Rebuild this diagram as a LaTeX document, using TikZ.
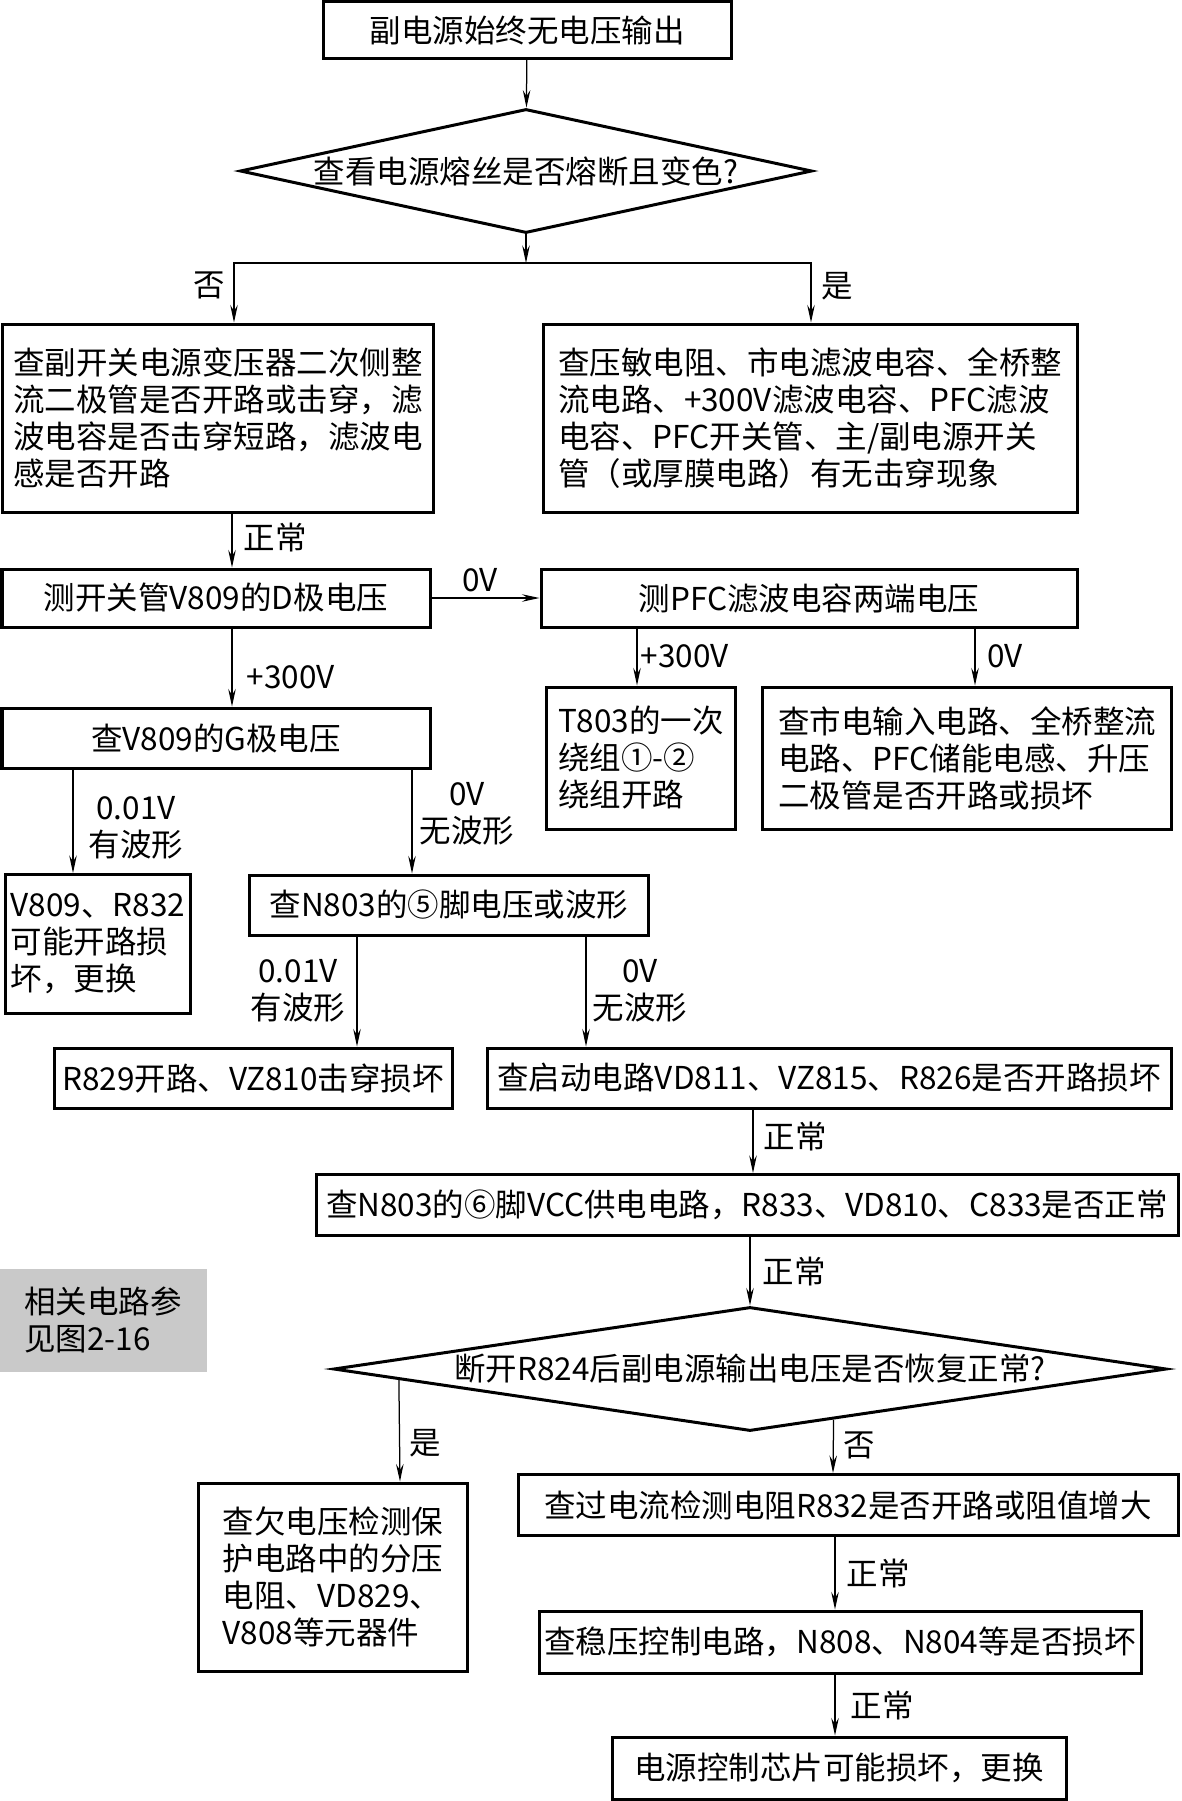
\documentclass[tikz,border=0pt]{standalone}
\usepackage{fontspec}
\setmainfont{Noto Sans CJK SC}
\usepackage{tikz,xcolor}
\usetikzlibrary{shapes.geometric,arrows.meta,calc}
\definecolor{notegray}{gray}{0.79}
\tikzset{
  box/.style 2 args={draw=black,line width=1.2pt,inner sep=0pt,minimum width=#1*0.4pt,minimum height=#2*0.4pt,align=center},
  dia/.style n args={3}{diamond,draw=black,line width=1.2pt,inner sep=0pt,minimum width=#1*0.4pt,minimum height=#2*0.4pt,shape aspect=#3},
  note/.style 2 args={fill=notegray,inner sep=0pt,minimum width=#1*0.4pt,minimum height=#2*0.4pt},
  lbl/.style={inner sep=0pt,align=center},
  arr/.style={line width=0.5pt,-{Stealth[length=7pt,width=3pt,inset=2.4pt]}}
}

\begin{document}
\begin{tikzpicture}[x=0.4pt,y=-0.4pt,font=\fontsize{12.6}{14.8}\selectfont]
\useasboundingbox (0,0) rectangle (1181,1801);

\node[box={408}{57}] (top) at (527,30) {副电源始终无电压输出};
\node[dia={572}{124}{4.6}] (fuse) at (526,171) {查看电源熔丝是否熔断且变色?};

\node[box={431}{188},align=left] (nobox) at (218,418) {查副开关电源变压器二次侧整\\流二极管是否开路或击穿，滤\\波电容是否击穿短路，滤波电\\感是否开路};
\node[box={534}{188},align=left] (yesbox) at (810,418) {查压敏电阻、市电滤波电容、全桥整\\流电路、+300V滤波电容、PFC滤波\\电容、PFC开关管、主/副电源开关\\管（或厚膜电路）有无击穿现象};

\node[box={428}{58}] (dbox) at (216,598) {测开关管V809的D极电压};
\node[box={536}{58}] (pfcbox) at (809,598) {测PFC滤波电容两端电压};

\node[box={428}{60}] (gbox) at (216,738) {查V809的G极电压};
\node[box={189}{142},align=left] (t803box) at (641,758) {T803的一次\\绕组①-②\\绕组开路};
\node[box={409}{142},align=left] (mainsbox) at (967,758) {查市电输入电路、全桥整流\\电路、PFC储能电感、升压\\二极管是否开路或损坏};

\node[box={185}{139},align=left] (vbox) at (98,944) {V809、R832\\可能开路损\\坏，更换};
\node[box={399}{60}] (n5box) at (449,905) {查N803的⑤脚电压或波形};

\node[box={398}{60}] (r829box) at (253,1078) {R829开路、VZ810击穿损坏};
\node[box={684}{60}] (startbox) at (829,1078) {查启动电路VD811、VZ815、R826是否开路损坏};

\node[box={862}{61}] (vccbox) at (747,1205) {查N803的⑥脚VCC供电电路，R833、VD810、C833是否正常};

\node[note={207}{103},align=left] (note) at (103,1320) {相关电路参\\见图2-16};

\node[dia={833}{124}{6.7}] (check2) at (750,1369) {断开R824后副电源输出电压是否恢复正常?};

\node[box={269}{188},align=left] (underbox) at (333,1577) {查欠电压检测保\\护电路中的分压\\电阻、VD829、\\V808等元器件};
\node[box={660}{61}] (overbox) at (848,1505) {查过电流检测电阻R832是否开路或阻值增大};
\node[box={602}{62}] (regbox) at (840,1642) {查稳压控制电路，N808、N804等是否损坏};
\node[box={454}{62}] (chipbox) at (839,1768) {电源控制芯片可能损坏，更换};

\draw[arr] (top) -- (fuse);
\coordinate (split1) at (526,263);
\draw[arr] (fuse) -- (split1);
\draw[arr] (split1) -| (nobox.north -| 234,0);
\draw[arr] (split1) -| (yesbox.north -| 811,0);
\draw[arr] (nobox.south -| 232,0) -- (dbox.north -| 232,0);
\draw[arr] (dbox) -- (pfcbox);
\draw[arr] (dbox.south -| 232,0) -- (gbox.north -| 232,0);
\draw[arr] (pfcbox.south -| 637,0) -- (t803box.north -| 637,0);
\draw[arr] (pfcbox.south -| 975,0) -- (mainsbox.north -| 975,0);
\draw[arr] (gbox.south -| 73,0) -- (vbox.north -| 73,0);
\draw[arr] (gbox.south -| 412,0) -- (n5box.north -| 412,0);
\draw[arr] (n5box.south -| 357,0) -- (r829box.north -| 357,0);
\draw[arr] (n5box.south -| 586,0) -- (startbox.north -| 586,0);
\draw[arr] (startbox.south -| 753,0) -- (vccbox.north -| 753,0);
\draw[arr] (vccbox.south -| check2.north) -- (check2.north);
\draw[arr] ($(check2.west)!0.16!(check2.south)$) -- (underbox.north -| 400,0);
\draw[arr] ($(check2.south)!0.2!(check2.east)$) -- (overbox.north -| 833,0);
\draw[arr] (overbox.south -| 835,0) -- (regbox.north -| 835,0);
\draw[arr] (regbox.south -| 835,0) -- (chipbox.north -| 835,0);

\node[lbl] (lNo1) at (209,285) {否};
\node[lbl] (lYes1) at (837,286) {是};
\node[lbl] (lOk1) at (275,538) {正常};
\node[lbl] (l0V1) at (480,580) {0V};
\node[lbl] (l300a) at (291,677) {+300V};
\node[lbl] (l300b) at (685,656) {+300V};
\node[lbl] (l0V2) at (1005,656) {0V};
\node[lbl] (lWaveA) at (136,828) {0.01V\\有波形};
\node[lbl] (lNoWaveA) at (467,814) {0V\\无波形};
\node[lbl] (lWaveB) at (298,991) {0.01V\\有波形};
\node[lbl] (lNoWaveB) at (640,991) {0V\\无波形};
\node[lbl] (lOk2) at (795,1136) {正常};
\node[lbl] (lOk3) at (794,1271) {正常};
\node[lbl] (lYes2) at (425,1443) {是};
\node[lbl] (lNo2) at (859,1445) {否};
\node[lbl] (lOk4) at (878,1573) {正常};
\node[lbl] (lOk5) at (882,1705) {正常};

\end{tikzpicture}
\end{document}
